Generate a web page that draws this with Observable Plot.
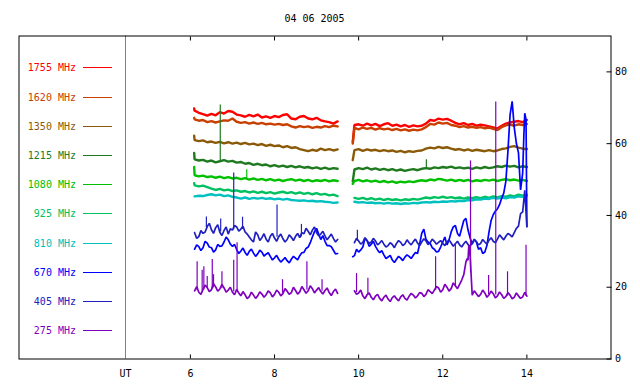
<!DOCTYPE html>
<html><head><meta charset="utf-8">
<script src="https://cdn.jsdelivr.net/npm/d3@7"></script>
<script src="https://cdn.jsdelivr.net/npm/@observablehq/plot@0.6"></script>
<style>
body{margin:0;background:#fff;}
#chart{position:relative;width:640px;height:384px;}
</style></head><body><div id="chart"></div>
<script>
const title = "04 06 2005";
const labels = ["1755 MHz","1620 MHz","1350 MHz","1215 MHz","1080 MHz","925 MHz","810 MHz","670 MHz","405 MHz","275 MHz"];
const colors = ["#ff0000","#c84000","#8b5a08","#1f7a1f","#00c000","#00c060","#00c0c0","#0000ff","#2020c0","#8000c0"];
const xTicks = [6, 8, 10, 12, 14];
const yTicks = [0, 20, 40, 60, 80];
const utStart = [4.457];
const xDomain = [1.925, 16];
const yDomain = [0, 90];

const tL = [6.1,6.2,6.3,6.4,6.5,6.6,6.7,6.8,6.9,7.0,7.1,7.2,7.3,7.4,7.5,7.6,7.7,7.8,7.9,8.0,8.1,8.2,8.3,8.4,8.5,8.6,8.7,8.8,8.9,9.0,9.1,9.2,9.3,9.4,9.5];
const tR = [9.9,10.0,10.1,10.2,10.3,10.4,10.5,10.6,10.7,10.8,10.9,11.0,11.1,11.2,11.3,11.4,11.5,11.6,11.7,11.8,11.9,12.0,12.1,12.2,12.3,12.4,12.5,12.6,12.7,12.8,12.9,13.0,13.1,13.2,13.3,13.4,13.5,13.6,13.7,13.8,13.9,14.0];
const tLm = [6.15,6.25,6.35,6.45,6.55,6.65,6.75,6.85,6.95,7.05,7.15,7.25,7.35,7.45,7.55,7.65,7.75,7.85,7.95,8.05,8.15,8.25,8.35,8.45,8.55,8.65,8.75,8.85,8.95,9.05,9.15,9.25,9.35,9.45];
const tRm = [9.95,10.05,10.15,10.25,10.35,10.45,10.55,10.65,10.75,10.85,10.95,11.05,11.15,11.25,11.35,11.45,11.55,11.65,11.75,11.85,11.95,12.05,12.15,12.25,12.35,12.45,12.55,12.65,12.75,12.85,12.95,13.05,13.15,13.25,13.35,13.45,13.55,13.65,13.75,13.85,13.95];

const f1755L = [69.2,68.6,68.2,67.8,68.3,67.9,68.8,68.4,69.1,68.9,68.1,67.9,67.5,68.0,67.6,68.1,67.3,67.6,67.2,67.7,67.4,68.0,68.2,67.0,66.8,67.5,67.7,67.0,66.8,67.2,66.5,66.2,66.0,65.6,66.2];
const f1755R = [65.2,65.4,65.0,65.6,65.1,65.5,64.9,65.4,65.7,65.0,65.3,64.8,65.2,64.7,65.1,64.8,65.0,65.6,66.6,66.4,67.0,66.7,66.9,66.4,65.8,65.4,65.7,65.2,65.5,65.0,65.3,65.1,64.8,64.5,64.2,65.0,65.6,65.9,66.1,66.3,66.0,66.6];
const x1755 = [[6.09,69.8],[9.86,60.5]];

const f1620L = [66.8,66.4,66.6,66.0,66.3,65.9,66.2,66.5,66.4,67.0,66.1,65.8,66.0,65.6,65.9,65.5,65.8,65.4,65.6,65.3,65.5,65.2,65.4,64.8,64.5,64.9,64.6,64.8,64.4,64.7,64.5,64.9,64.6,65.0,64.8];
const f1620R = [64.4,64.0,64.5,64.1,64.4,63.9,64.3,64.0,64.2,63.8,64.1,63.7,64.0,63.6,63.9,63.7,64.0,64.6,65.5,65.3,65.9,65.6,65.8,65.2,65.0,64.6,64.9,64.5,64.7,64.4,64.6,64.3,64.5,64.1,63.8,64.6,65.1,65.3,65.0,65.4,65.2,65.5];
const x1620 = [[6.09,67.2],[9.86,60.0]];

const f1350L = [61.0,60.7,60.9,60.4,60.6,60.2,60.5,60.1,60.4,60.0,60.3,59.9,60.2,59.8,60.0,59.6,59.9,59.4,59.7,59.3,59.5,59.0,59.3,58.8,59.0,58.5,58.2,57.9,58.3,58.0,58.6,58.2,58.5,58.1,58.4];
const f1350R = [58.2,58.5,58.0,58.4,58.1,58.3,57.9,58.2,57.9,58.1,57.7,58.0,57.6,57.9,57.7,58.0,58.1,58.6,58.9,58.7,59.1,58.8,59.0,58.6,58.3,58.5,58.1,58.4,58.0,58.3,58.1,57.9,58.2,57.9,58.1,58.5,58.7,59.1,59.3,58.9,58.6,58.5];
const x1350 = [[6.09,62.2],[9.86,55.4]];

const f1215L = [55.6,55.3,55.5,55.0,55.3,54.8,55.1,55.4,55.0,55.2,54.7,54.9,54.4,54.6,54.1,54.4,54.0,54.2,53.7,54.0,53.6,53.9,53.5,53.8,53.4,53.7,53.3,53.5,53.1,53.4,53.0,53.3,52.9,53.2,53.0];
const f1215R = [52.8,53.2,52.9,53.3,52.8,53.1,52.7,53.0,52.6,52.9,52.5,52.8,52.4,52.7,52.9,52.6,53.0,53.2,53.0,53.4,53.2,53.5,53.3,53.6,53.2,53.4,53.1,53.3,53.0,53.4,53.1,53.5,53.2,53.4,53.7,53.5,53.9,53.6,53.8,53.4,53.7,53.5];
const x1215 = [[6.09,57.4],[9.86,49.5]];

const f1080L = [51.2,50.9,51.1,50.7,50.9,50.5,50.8,50.4,50.7,50.3,50.5,50.1,50.4,50.0,50.3,49.9,50.2,49.8,50.1,49.7,50.0,49.6,49.9,50.1,49.7,50.0,49.6,49.9,49.5,49.8,49.6,49.9,49.5,49.8,49.6];
const f1080R = [49.6,49.9,49.5,49.8,49.4,49.7,49.3,49.6,49.2,49.5,49.1,49.4,49.2,49.5,49.3,49.6,49.8,49.6,50.0,49.8,50.2,50.0,49.7,50.0,49.6,49.9,49.6,49.9,49.5,49.8,49.6,49.9,49.7,50.0,49.6,49.9,50.1,49.8,50.0,49.7,49.9,49.6];
const x1080 = [[6.09,53.5],[9.86,48.8]];

const f925L = [48.4,48.1,48.3,47.9,47.5,47.1,47.4,47.0,47.2,46.8,47.0,46.6,46.8,46.4,46.7,46.3,46.6,46.2,46.5,46.1,46.4,46.6,46.2,46.5,46.1,46.4,46.0,46.3,45.9,46.2,45.8,46.0,45.6,45.8,45.4];
const f925R = [44.9,44.6,44.9,44.5,44.8,44.4,44.7,44.3,44.6,44.3,44.5,44.2,44.5,44.3,44.6,44.4,44.7,45.0,44.8,45.1,44.9,45.2,44.9,45.1,44.8,45.0,44.7,45.0,44.8,45.1,44.8,45.2,44.9,45.3,45.0,45.4,45.2,45.6,45.3,45.8,45.5,45.8];
const x925 = [[6.09,49.0]];

const f810L = [45.3,45.5,45.4,45.7,45.9,45.6,45.8,45.4,45.6,45.2,45.0,44.7,45.0,44.6,44.9,44.7,44.9,44.6,44.8,44.5,44.7,44.4,44.6,44.3,44.2,44.1,44.2,44.0,44.1,43.9,44.0,43.8,43.7,43.5,43.6];
const f810R = [43.8,43.6,43.7,43.5,43.6,43.4,43.5,43.3,43.5,43.3,43.4,43.2,43.4,43.3,43.5,43.4,43.6,43.7,43.6,43.8,43.7,43.9,43.8,44.0,43.9,44.1,44.0,44.3,44.2,44.5,44.4,44.7,44.6,44.9,44.7,45.0,44.8,45.1,45.0,45.3,45.2,45.5];
const x810 = [];

const f670L = [30.6,31.3,31.0,32.3,31.0,30.4,31.4,32.6,33.2,31.4,30.5,30.1,29.7,30.0,29.5,29.3,29.8,29.2,28.6,28.2,27.8,27.6,27.4,27.8,28.1,28.8,29.7,31.2,34.0,36.4,33.3,32.8,31.6,30.3,29.4];
const f670Lm = [31.8,30.2,32.8,31.2,29.8,31.9,31.5,34.0,32.0,31.9,29.4,30.9,28.9,30.6,28.6,30.3,28.7,29.6,27.6,28.9,27.0,28.3,26.8,28.6,27.6,29.6,30.8,32.4,35.5,34.8,34.4,31.6,31.3,29.3];
const f670R = [28.8,29.8,31.2,33.0,32.0,31.4,29.6,29.0,28.4,27.6,27.8,28.1,28.4,28.6,28.9,29.4,35.0,33.4,32.2,30.6,30.0,32.6,31.8,35.4,37.2,34.2,38.6,36.0,32.0,32.6,31.0,29.8,35.4,40.2,41.8,44.8,49.5,68.0,64.5,57.5,51.8,37.0];
const f670Rm = [30.6,30.4,33.6,31.4,32.8,30.4,30.2,28.0,28.9,26.9,28.6,27.4,29.0,28.0,29.7,32.0,36.2,32.6,31.0,29.8,31.2,34.0,33.2,36.8,35.0,36.4,39.2,33.8,33.4,30.6,29.4,31.6,38.6,41.2,43.0,46.2,58.0,71.8,60.1,47.1,68.5];
const x670 = [[9.86,28.5],[13.93,62.9],[13.98,66.7]];

const f405L = [35.2,34.1,35.0,36.9,36.0,36.6,35.3,35.8,34.8,35.9,36.8,36.2,35.4,34.0,32.6,34.6,33.8,33.4,34.2,33.7,34.1,33.5,33.3,33.9,34.2,33.8,34.9,35.6,35.9,35.2,34.8,34.3,34.0,33.6,33.3];
const f405Lm = [33.6,35.8,35.4,37.8,35.0,37.4,34.4,36.8,36.3,37.2,35.6,37.0,34.8,33.2,35.4,33.0,34.9,32.6,35.0,32.8,34.8,32.6,34.6,33.0,35.0,35.2,36.4,34.6,36.8,34.3,35.6,33.2,34.8,32.6];
const f405R = [32.4,32.9,32.5,33.0,32.6,32.9,32.3,32.0,31.6,31.9,32.2,32.5,32.1,32.4,32.7,32.3,32.6,32.9,32.4,32.8,32.5,32.2,32.6,32.3,32.1,31.8,32.1,31.9,32.4,32.7,32.2,32.6,33.1,32.8,33.4,33.9,34.2,34.6,35.2,37.0,41.0,36.8];
const f405Rm = [33.6,32.0,33.8,32.2,33.6,31.8,33.0,31.2,32.4,31.0,33.0,31.6,33.2,31.8,33.4,31.6,33.5,31.9,33.4,32.0,33.0,31.6,33.2,31.4,32.8,31.2,32.8,31.4,33.2,31.8,33.3,32.0,33.8,32.4,34.6,33.2,35.0,34.0,36.4,40.5,47.0];
const x405 = [];

const f275L = [19.0,18.6,19.4,19.9,19.3,20.1,19.5,19.8,19.2,18.6,19.4,17.6,17.9,17.4,17.8,17.6,18.1,17.9,18.4,18.0,18.6,18.2,18.9,18.5,19.1,18.7,19.3,19.0,19.6,19.2,18.8,19.1,18.5,18.8,18.3];
const f275Lm = [20.2,18.0,20.6,18.8,21.0,18.9,20.8,18.6,20.0,17.9,18.4,18.8,16.8,18.6,16.9,18.7,17.2,19.0,17.3,19.2,17.6,19.6,18.0,20.0,18.1,20.2,18.3,20.4,18.4,19.9,18.1,19.8,17.7,19.5];
const f275R = [19.0,18.4,17.6,17.9,17.2,17.5,16.9,17.2,16.7,17.1,16.8,17.3,16.9,17.5,17.8,17.6,18.3,18.0,18.8,19.2,19.8,19.3,20.0,19.6,20.4,20.8,23.5,27.5,17.8,18.2,18.0,18.4,17.9,18.2,17.6,17.9,17.4,17.8,17.2,17.6,17.3,17.5];
const f275Rm = [18.0,19.2,16.8,18.4,16.5,18.0,16.2,17.8,16.0,17.6,16.2,17.9,16.4,18.3,17.0,18.5,17.4,19.3,18.2,20.2,18.6,20.8,18.9,21.2,19.6,22.0,27.0,29.0,19.0,17.4,19.2,17.2,18.9,17.0,18.7,16.9,18.5,16.8,18.4,16.9,18.6];
const x275 = [[12.58,28.0],[12.62,31.7]];

// spikes: [time, base, peak]
const s1215 = [[6.71,55.2,70.8],[11.61,53.1,55.5]];
const s1080 = [[7.34,50.2,52.7]];
const s405 = [[6.38,36.6,39.6],[6.72,35.4,39.0],[7.03,36.0,51.8],[7.24,36.1,39.5],[8.06,33.9,42.9],[8.64,34.0,37.5],[9.97,32.8,35.9]];
const s275 = [[6.16,19.0,27.1],[6.28,18.9,24.7],[6.32,19.2,25.7],[6.40,19.7,23.0],[6.52,19.5,27.7],[6.55,19.8,23.5],[6.75,19.6,24.3],[7.03,18.7,27.5],[7.11,18.8,32.4],[8.19,18.3,22.1],[8.77,19.2,27.1],[9.13,18.9,22.1],[9.95,18.5,23.8],[10.22,17.8,22.5],[11.83,19.1,28.5],[12.30,20.3,32.2],[12.66,24.0,55.2],[13.09,18.0,23.3],[13.26,17.8,71.6],[13.54,17.5,24.3],[13.98,17.4,31.7]];

const seriesL = [f1755L,f1620L,f1350L,f1215L,f1080L,f925L,f810L,f670L,f405L,f275L];
const seriesR = [f1755R,f1620R,f1350R,f1215R,f1080R,f925R,f810R,f670R,f405R,f275R];
const midL = [null,null,null,null,null,null,null,f670Lm,f405Lm,f275Lm];
const midR = [null,null,null,null,null,null,null,f670Rm,f405Rm,f275Rm];
const extras = [x1755,x1620,x1350,x1215,x1080,x925,x810,x670,x405,x275];
const spikeLists = [[],[],[],s1215,s1080,[],[],[],s405,s275];
const lineWidths = [2.4,2.4,2.4,2.4,2.4,2.4,2.4,1.7,1.7,1.7];

const rows = [];
const spikes = [];
labels.forEach((name, k) => {
  const pts = [];
  tL.forEach((t, i) => pts.push({t, v: seriesL[k][i]}));
  tR.forEach((t, i) => pts.push({t, v: seriesR[k][i]}));
  if (midL[k]) tLm.forEach((t, i) => pts.push({t, v: midL[k][i]}));
  if (midR[k]) tRm.forEach((t, i) => pts.push({t, v: midR[k][i]}));
  extras[k].forEach(([t, v]) => pts.push({t, v}));
  pts.sort((a, b) => a.t - b.t);
  for (const p of pts) rows.push({t: p.t, v: p.v, k, color: colors[k], key: name + (p.t < 9.7 ? "-a" : "-b")});
  spikeLists[k].forEach(([t, b, p]) => spikes.push({t, b, p, color: colors[k]}));
});

const font = "'DejaVu Sans Mono', monospace";
const lineMarks = labels.map((name, k) =>
  Plot.line(rows.filter(r => r.k === k), {x: "t", y: "v", z: "key", stroke: "color", strokeWidth: lineWidths[k], strokeLinejoin: "miter"}));

const svg = Plot.plot({
  width: 640, height: 384,
  marginTop: 35.5, marginBottom: 25.5, marginLeft: 18.5, marginRight: 29.5,
  x: {domain: xDomain, label: null},
  y: {domain: yDomain, label: null},
  color: {type: "identity"},
  style: {fontFamily: font, fontSize: "10px", color: "black", background: "white", overflow: "visible"},
  marks: [
    Plot.ruleX(utStart, {stroke: "#808080", strokeWidth: 1}),
    ...lineMarks,
    Plot.ruleX(spikes, {x: "t", y1: "b", y2: "p", stroke: "color", strokeWidth: 1.2}),
    Plot.frame({stroke: "black"}),
    Plot.axisX({anchor: "bottom", ticks: xTicks, tickSize: -4, tickPadding: 15, tickFormat: d => String(d)}),
    Plot.axisX({anchor: "bottom", ticks: utStart, tickSize: 0, tickPadding: 11, tickFormat: () => "UT"}),
    Plot.axisX({anchor: "top", ticks: xTicks, tickSize: -4, tickFormat: () => ""}),
    Plot.axisY({anchor: "right", ticks: yTicks, tickSize: -5, tickPadding: 9, tickFormat: d => String(d)})
  ]
});
document.getElementById("chart").appendChild(svg);

const s = d3.select(svg);
s.append("text").attr("x", 314.5).attr("y", 21.5).attr("text-anchor", "middle")
  .style("font-family", font).style("font-size", "10px").attr("fill", "black").text(title);
const g = s.append("g");
labels.forEach((name, i) => {
  const y = Math.round(67.3 + 29.22 * i) + 0.5;
  g.append("text").attr("x", 76).attr("y", y).attr("dy", "0.35em").attr("text-anchor", "end")
    .style("font-family", font).style("font-size", "10px").attr("fill", colors[i]).text(name);
  g.append("line").attr("x1", 83).attr("x2", 112).attr("y1", y).attr("y2", y)
    .attr("stroke", colors[i]).attr("stroke-width", 1);
});
</script></body></html>
